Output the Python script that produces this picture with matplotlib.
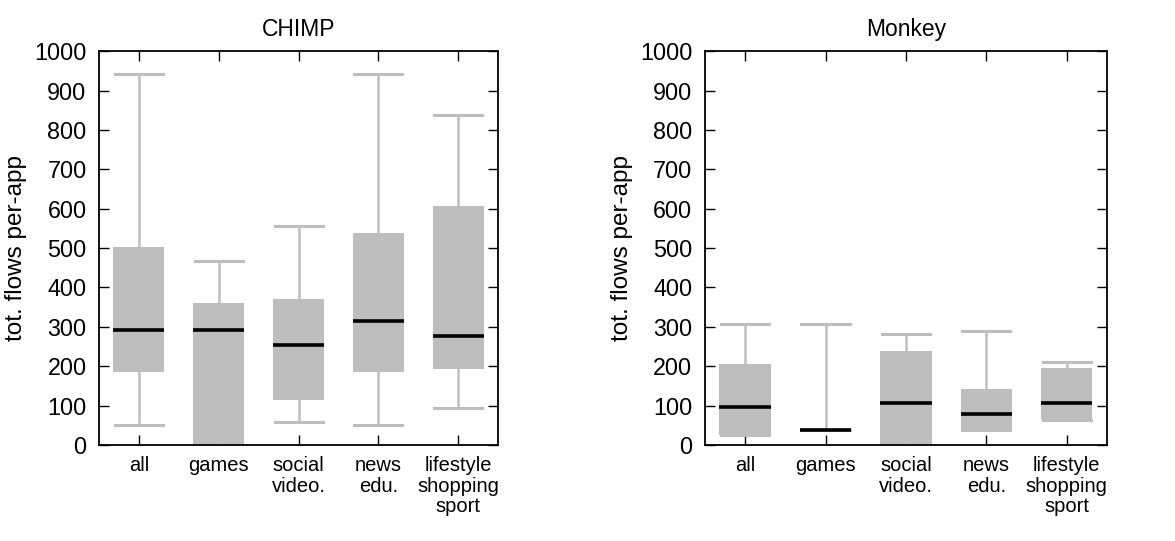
import matplotlib.pyplot as plt

plt.rcParams['font.family'] = ['Liberation Sans', 'DejaVu Sans']

categories = ["all", "games", "social\nvideo.", "news\nedu.", "lifestyle\nshopping\nsport"]

# per category: low whisker, Q1, median, Q3, high whisker
chimp_low = [50, 0, 59, 50, 95]
chimp_q1 = [186, 0, 115, 186, 193]
chimp_med = [293, 293, 254, 314, 277]
chimp_q3 = [502, 361, 370, 538, 606]
chimp_high = [941, 467, 556, 941, 839]

monkey_low = [25, 39, 0, 38, 63]
monkey_q1 = [25, 39, 0, 38, 63]
monkey_med = [96, 39, 107, 78, 107]
monkey_q3 = [205, 39, 238, 143, 196]
monkey_high = [307, 307, 282, 289, 211]

grey = "#bebebe"


def make_stats(low, q1, med, q3, high):
    return [dict(whislo=a, q1=b, med=c, q3=d, whishi=e, fliers=[])
            for a, b, c, d, e in zip(low, q1, med, q3, high)]


def draw(ax, stats, title):
    ax.bxp(stats, positions=range(1, 6), widths=0.64, patch_artist=True,
           showfliers=False,
           boxprops=dict(facecolor=grey, edgecolor=grey, linewidth=0),
           whiskerprops=dict(color=grey, linewidth=1.8),
           capprops=dict(color=grey, linewidth=2.2),
           capwidths=0.6,
           medianprops=dict(color="black", linewidth=2.6))
    ax.set_xlim(0.5, 5.5)
    ax.set_ylim(0, 1000)
    ax.set_yticks(range(0, 1001, 100))
    ax.set_xticks(range(1, 6))
    ax.set_xticklabels(categories, fontsize=14.5, linespacing=1.1)
    ax.tick_params(axis='y', labelsize=16.8, pad=9)
    ax.tick_params(axis='x', pad=8)
    ax.tick_params(direction='in', length=7, width=1, top=True, right=True)
    for s in ax.spines.values():
        s.set_linewidth(1.3)
    ax.set_ylabel("tot. flows per-app", fontsize=17.5, labelpad=5)
    ax.set_title(title, fontsize=16.5, pad=11)


fig = plt.figure(figsize=(11.75, 5.41), dpi=100)
ax1 = fig.add_axes([0.0843, 0.1774, 0.3396, 0.728])
ax2 = fig.add_axes([0.6, 0.1774, 0.342, 0.728])

draw(ax1, make_stats(chimp_low, chimp_q1, chimp_med, chimp_q3, chimp_high), "CHIMP")
draw(ax2, make_stats(monkey_low, monkey_q1, monkey_med, monkey_q3, monkey_high), "Monkey")

fig.savefig("out.png", dpi=100)
